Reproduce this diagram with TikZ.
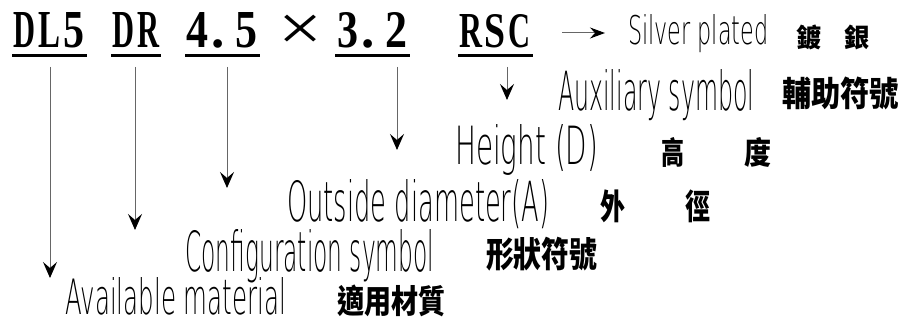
\documentclass[tikz,border=0pt]{standalone}
\usepackage{fontspec}
\usepackage{graphicx}
\usetikzlibrary{arrows.meta}
\newfontfamily\codefont{Liberation Serif}
\newfontfamily\codebold{Liberation Serif Bold}
\IfFontExistsTF{DejaVu Sans ExtraLight}
  {\newfontfamily\handfont{DejaVu Sans ExtraLight}}
  {\newcommand\handfont{\sffamily}}
\newfontfamily\cjkfont{Noto Sans CJK TC}
\newcommand\codechar[3][35pt]{\makebox[24.7pt]{\resizebox{#2}{#1}{\codebold #3}}}
\newcommand\codedot{\makebox[24.7pt][l]{\kern2pt{\fontsize{53}{53}\selectfont\codebold .}}}
\tikzset{
  code/.style={anchor=base west, inner sep=0pt},
  uline/.style={line width=3pt, black},
  lbl/.style={anchor=base west, inner sep=0pt},
  cjk/.style={anchor=north west, inner sep=0pt},
  conn/.style={draw=black!60, line width=1pt, -{Stealth[length=16pt,width=14pt,inset=6pt,color=black]}},
}
\begin{document}
\begin{tikzpicture}[x=1pt,y=-1pt]
\fill[white] (0,0) rectangle (904,320);
\useasboundingbox (0,0) rectangle (904,320);
% code line
\node[code] (DL5) at (12,48) {\codechar{22pt}{D}\codechar{22pt}{L}\codechar{21pt}{5}};
\node[code] (DR) at (111,48) {\codechar{22pt}{D}\codechar{22pt}{R}};
\node[code] (d45) at (185,48) {\codechar{22pt}{4}\codedot\codechar{22pt}{5}};
\node[anchor=base, inner sep=0pt] (times) at (300,51) {\scalebox{1.3}[1.1]{\fontsize{60}{60}\selectfont\codefont ×}};
\node[code] (d32) at (335,48) {\codechar{21pt}{3}\codedot\codechar{22pt}{2}};
\node[code] (RSC) at (458,48) {\codechar[33pt]{23pt}{R}\codechar[33pt]{21pt}{S}\codechar[33pt]{22pt}{C}};
\foreach \n in {DL5,DR,d45,d32,RSC}
  \draw[uline] ([yshift=-7.5pt]\n.base west) -- ([yshift=-7.5pt]\n.base east);
% labels
\node[lbl] (silver) at (628,45) {\resizebox{140pt}{30pt}{\handfont Silver plated}};
\node[lbl] (aux) at (558,111) {\resizebox{196pt}{41pt}{\handfont Auxiliary symbol}};
\node[lbl] (height) at (455,165) {\resizebox{143pt}{40pt}{\handfont Height (D)}};
\node[lbl] (outside) at (287,222) {\resizebox{262pt}{42pt}{\handfont Outside diameter(A)}};
\node[lbl] (config) at (185,272) {\resizebox{249pt}{42pt}{\handfont Configuration symbol}};
\node[lbl] (avail) at (65,314) {\resizebox{221pt}{37pt}{\handfont Available material}};
% chinese
\node[cjk] (zhDu) at (796,25) {\resizebox*{25pt}{25pt}{\cjkfont\bfseries 鍍}};
\node[cjk] (zhYin) at (844,25) {\resizebox*{25pt}{25pt}{\cjkfont\bfseries 銀}};
\node[cjk] (zhAux) at (782,77) {\resizebox*{117pt}{33pt}{\cjkfont\bfseries 輔助符號}};
\node[cjk] (zhGao) at (661,137) {\resizebox*{23pt}{30pt}{\cjkfont\bfseries 高}};
\node[cjk] (zhDuH) at (744,137) {\resizebox*{27pt}{30pt}{\cjkfont\bfseries 度}};
\node[cjk] (zhWai) at (600,190) {\resizebox*{25pt}{33pt}{\cjkfont\bfseries 外}};
\node[cjk] (zhJing) at (685,190) {\resizebox*{25pt}{33pt}{\cjkfont\bfseries 徑}};
\node[cjk] (zhConf) at (486,237) {\resizebox*{111pt}{34pt}{\cjkfont\bfseries 形狀符號}};
\node[cjk] (zhAvail) at (337,285) {\resizebox*{108pt}{32pt}{\cjkfont\bfseries 適用材質}};
% connector ends
\coordinate (sDL) at (50,67);   \coordinate (tDL) at (50,278);
\coordinate (sDR) at (135,67);  \coordinate (tDR) at (135,230);
\coordinate (s45) at (227,67);  \coordinate (t45) at (227,188);
\coordinate (s32) at (397,67);  \coordinate (t32) at (397,150);
\coordinate (sRd) at (507,67);  \coordinate (tRd) at (507,100);
\coordinate (sRr) at (562,33);  \coordinate (tRr) at (605,33);
\draw[conn] (sDL) -- (tDL);
\draw[conn] (sDR) -- (tDR);
\draw[conn] (s45) -- (t45);
\draw[conn] (s32) -- (t32);
\draw[conn] (sRd) -- (tRd);
\draw[conn, -{Stealth[length=15pt,width=11pt,inset=5pt,color=black]}] (sRr) -- (tRr);
\end{tikzpicture}
\end{document}
